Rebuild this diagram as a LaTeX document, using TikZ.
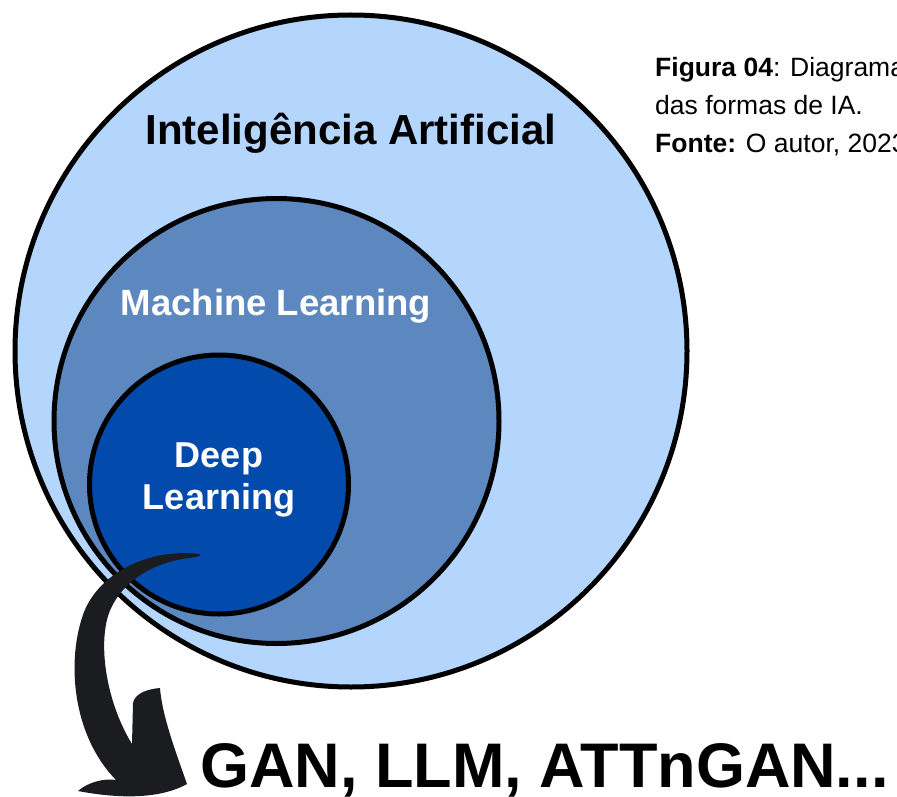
\documentclass[tikz,border=0pt]{standalone}
\usepackage{fontspec}
\setmainfont{Liberation Sans}
\usepackage{xcolor}
\usepackage{tikz}
\usetikzlibrary{positioning}
\definecolor{iablue}{HTML}{B4D5FC}
\definecolor{mlblue}{HTML}{5C88BF}
\definecolor{dlblue}{HTML}{034AAD}
\definecolor{arrowblack}{HTML}{1B1C1F}

\begin{document}
\begin{tikzpicture}[x=1pt,y=-1pt,
  ring/.style={circle,draw=black,line width=5pt,inner sep=0pt},
  bigtext/.style={font=\bfseries\fontsize{#1}{#1}\selectfont,anchor=base,inner sep=0pt},
  captext/.style={font=\fontsize{26.5}{30}\selectfont,anchor=base west,inner sep=0pt}]
  \useasboundingbox (0,0) rectangle (897,797);
  \clip (0,0) rectangle (897,797);
  % nested circles
  \node[ring,fill=iablue,minimum size=672pt] (ia) at (351,351) {};
  \node[ring,fill=mlblue,minimum size=445pt] (ml) at (276.5,421) {};
  \node[ring,fill=dlblue,minimum size=259pt] (dl) at (219,484.5) {};
  % labels
  \node[bigtext=42] (ialabel) at (351,145) {Inteligência Artificial};
  \node[bigtext=36.5,text=white] (mllabel) at (276,315) {Machine Learning};
  \node[bigtext=36,text=white] (dllabela) at (219,467) {Deep};
  \node[bigtext=36,text=white] (dllabelb) at (219,509) {Learning};
  % curved arrow out of deep learning
  \fill[arrowblack] (200,554) .. controls (150,548) and (100,572) .. (84,612)
    .. controls (66,660) and (72,735) .. (116,780)
    .. controls (105,778) and (88,782) .. (78,791)
    .. controls (120,799) and (160,799) .. (187,784)
    .. controls (175,750) and (162,715) .. (160,688)
    .. controls (148,689) and (135,693) .. (133,703)
    -- (132,744)
    .. controls (108,705) and (98,650) .. (108,616)
    .. controls (118,585) and (150,562) .. (190,558)
    .. controls (196,557) and (202,556) .. cycle;
  \node[bigtext=63,anchor=base west] (models) at (200,787) {GAN, LLM, ATTnGAN...};
  % caption
  \node[captext] (cap1) at (655,77) {\textbf{Figura 04}: Diagrama};
  \node[captext] (cap2) at (655,115) {das formas de IA.};
  \node[captext] (cap3) at (655,153) {\textbf{Fonte:} O autor, 2023};
\end{tikzpicture}
\end{document}
